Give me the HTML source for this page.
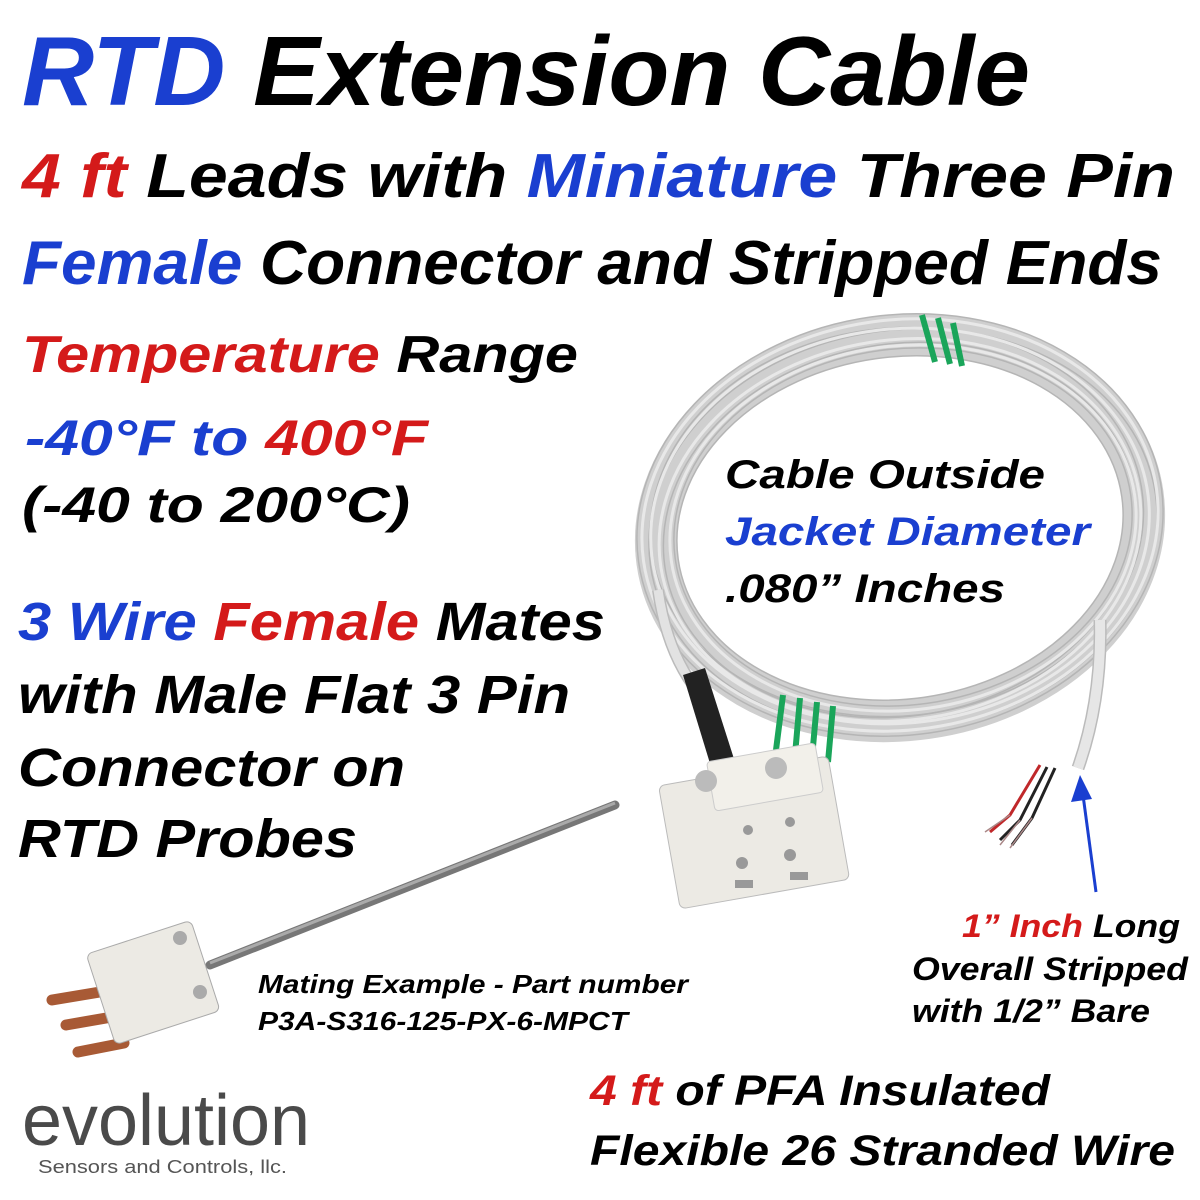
<!DOCTYPE html>
<html><head><meta charset="utf-8"><style>
html,body{margin:0;padding:0;background:#fff;}
svg{display:block;}
text{font-family:"Liberation Sans",Arial,sans-serif;font-weight:bold;font-style:italic;}
</style></head><body>
<svg width="1200" height="1200" viewBox="0 0 1200 1200" xmlns="http://www.w3.org/2000/svg">
<rect width="1200" height="1200" fill="#fff"/>
<!-- coil -->
<g fill="none">
<ellipse cx="900" cy="528" rx="245" ry="192" transform="rotate(-8 900 528)" stroke="#cfcfcf" stroke-width="42"/>
<g stroke="#b5b5b5" stroke-width="1.5">
<ellipse cx="900" cy="525" rx="264" ry="210" transform="rotate(-8 900 525)"/>
<ellipse cx="903" cy="530" rx="255" ry="200" transform="rotate(-8 903 530)"/>
<ellipse cx="897" cy="522" rx="247" ry="194" transform="rotate(-6 897 522)"/>
<ellipse cx="900" cy="530" rx="238" ry="186" transform="rotate(-10 900 530)"/>
<ellipse cx="903" cy="527" rx="230" ry="178" transform="rotate(-8 903 527)"/>
<ellipse cx="900" cy="528" rx="224" ry="171" transform="rotate(-8 900 528)"/>
</g>
<g stroke="#e8e8e8" stroke-width="3">
<ellipse cx="900" cy="525" rx="259" ry="205" transform="rotate(-8 900 525)"/>
<ellipse cx="900" cy="526" rx="250" ry="197" transform="rotate(-7 900 526)"/>
<ellipse cx="900" cy="530" rx="242" ry="190" transform="rotate(-9 900 530)"/>
<ellipse cx="903" cy="528" rx="234" ry="182" transform="rotate(-8 903 528)"/>
</g>
<path d="M658 590 Q668 660 705 700" stroke="#bbb" stroke-width="12"/>
<path d="M658 590 Q668 660 705 700" stroke="#e2e2e2" stroke-width="9"/>
<path d="M1100 620 Q1102 700 1078 768" stroke="#bbb" stroke-width="13"/>
<path d="M1100 620 Q1102 700 1078 768" stroke="#e6e6e6" stroke-width="10"/>
<!-- green bands -->
<g stroke="#1aa55a" stroke-width="6">
<path d="M922 315 L935 362 M938 318 L950 364 M953 323 L962 366"/>
<path d="M783 695 L776 750 M800 698 L795 755 M817 702 L812 758 M833 706 L828 762"/>
</g>
<!-- stripped wires -->
<path d="M1040 765 L1010 815 L990 832" stroke="#c0282a" stroke-width="3"/>
<path d="M1047 767 L1020 820 L1000 840" stroke="#222" stroke-width="3"/>
<path d="M1055 768 L1032 818 L1012 845" stroke="#222" stroke-width="3"/>
<path d="M1010 815 L985 832 M1020 820 L1000 845 M1032 818 L1010 848" stroke="#a88" stroke-width="1.5"/>
<!-- black boot -->
<path d="M683 675 L705 668 L735 762 L712 770 Z" fill="#222"/>
</g>
<!-- connector -->
<g>
<rect x="668" y="770" width="172" height="125" rx="6" fill="#eceae4" stroke="#bbb" transform="rotate(-10 754 832)"/>
<rect x="710" y="752" width="110" height="50" rx="4" fill="#f2f0ea" stroke="#ccc" transform="rotate(-10 765 777)"/>
<circle cx="706" cy="781" r="11" fill="#bbb"/><circle cx="776" cy="768" r="11" fill="#bbb"/>
<circle cx="748" cy="830" r="5" fill="#999"/><circle cx="790" cy="822" r="5" fill="#999"/>
<circle cx="742" cy="863" r="6" fill="#999"/><circle cx="790" cy="855" r="6" fill="#999"/>
<rect x="735" y="880" width="18" height="8" fill="#999"/><rect x="790" y="872" width="18" height="8" fill="#999"/>
</g>
<!-- probe -->
<line x1="210" y1="965" x2="615" y2="805" stroke="#777" stroke-width="9" stroke-linecap="round"/>
<line x1="210" y1="963" x2="615" y2="803" stroke="#aaa" stroke-width="3"/>
<g stroke="#a85a35" stroke-width="11" stroke-linecap="round">
<line x1="52" y1="1000" x2="100" y2="992"/><line x1="66" y1="1025" x2="112" y2="1017"/><line x1="78" y1="1052" x2="124" y2="1043"/>
</g>
<rect x="98" y="935" width="110" height="95" rx="6" fill="#eceae4" stroke="#aaa" transform="rotate(-18 153 982)"/>
<circle cx="180" cy="938" r="7" fill="#aaa"/><circle cx="200" cy="992" r="7" fill="#aaa"/>
<!-- arrow -->
<line x1="1096" y1="892" x2="1083" y2="795" stroke="#1a3fd0" stroke-width="3"/>
<polygon points="1080,775 1071,802 1092,799" fill="#1a3fd0"/>
<!-- text -->
<text x="22" y="105" font-size="98" textLength="1008" lengthAdjust="spacingAndGlyphs"><tspan fill="#1a3fd0">RTD</tspan> Extension Cable</text>
<text x="22" y="197" font-size="62" textLength="1153" lengthAdjust="spacingAndGlyphs"><tspan fill="#d41a1a">4 ft</tspan> Leads with <tspan fill="#1a3fd0">Miniature</tspan> Three Pin</text>
<text x="22" y="284" font-size="62" textLength="1140" lengthAdjust="spacingAndGlyphs"><tspan fill="#1a3fd0">Female</tspan> Connector and Stripped Ends</text>
<text x="22" y="372" font-size="52" textLength="556" lengthAdjust="spacingAndGlyphs"><tspan fill="#d41a1a">Temperature</tspan> Range</text>
<text x="25" y="455" font-size="50" textLength="403" lengthAdjust="spacingAndGlyphs"><tspan fill="#1a3fd0">-40°F to </tspan><tspan fill="#d41a1a">400°F</tspan></text>
<text x="22" y="522" font-size="50" textLength="388" lengthAdjust="spacingAndGlyphs">(-40 to 200°C)</text>
<text x="18" y="640" font-size="54" textLength="587" lengthAdjust="spacingAndGlyphs"><tspan fill="#1a3fd0">3 Wire </tspan><tspan fill="#d41a1a">Female</tspan> Mates</text>
<text x="18" y="713" font-size="54" textLength="552" lengthAdjust="spacingAndGlyphs">with Male Flat 3 Pin</text>
<text x="18" y="786" font-size="54" textLength="387" lengthAdjust="spacingAndGlyphs">Connector on</text>
<text x="18" y="857" font-size="54" textLength="339" lengthAdjust="spacingAndGlyphs">RTD Probes</text>
<text x="725" y="488" font-size="40" textLength="320" lengthAdjust="spacingAndGlyphs">Cable Outside</text>
<text x="725" y="545" font-size="40" fill="#1a3fd0" textLength="365" lengthAdjust="spacingAndGlyphs">Jacket Diameter</text>
<text x="725" y="602" font-size="40" textLength="280" lengthAdjust="spacingAndGlyphs">.080” Inches</text>
<text x="258" y="993" font-size="26" textLength="430" lengthAdjust="spacingAndGlyphs">Mating Example - Part number</text>
<text x="258" y="1030" font-size="26" textLength="370" lengthAdjust="spacingAndGlyphs">P3A-S316-125-PX-6-MPCT</text>
<text x="962" y="937" font-size="32" textLength="218" lengthAdjust="spacingAndGlyphs"><tspan fill="#d41a1a">1” Inch</tspan> Long</text>
<text x="912" y="980" font-size="32" textLength="276" lengthAdjust="spacingAndGlyphs">Overall Stripped</text>
<text x="912" y="1022" font-size="32" textLength="238" lengthAdjust="spacingAndGlyphs">with 1/2” Bare</text>
<text x="590" y="1105" font-size="43" textLength="460" lengthAdjust="spacingAndGlyphs"><tspan fill="#d41a1a">4 ft</tspan> of PFA Insulated</text>
<text x="590" y="1165" font-size="43" textLength="585" lengthAdjust="spacingAndGlyphs">Flexible 26 Stranded Wire</text>
<text x="22" y="1145" font-size="72" fill="#4a4a4a" style="font-weight:normal;font-style:normal" textLength="288" lengthAdjust="spacingAndGlyphs">evolution</text>
<text x="38" y="1173" font-size="18" fill="#555" style="font-weight:normal;font-style:normal" textLength="249" lengthAdjust="spacingAndGlyphs">Sensors and Controls, llc.</text>
</svg>
</body></html>
